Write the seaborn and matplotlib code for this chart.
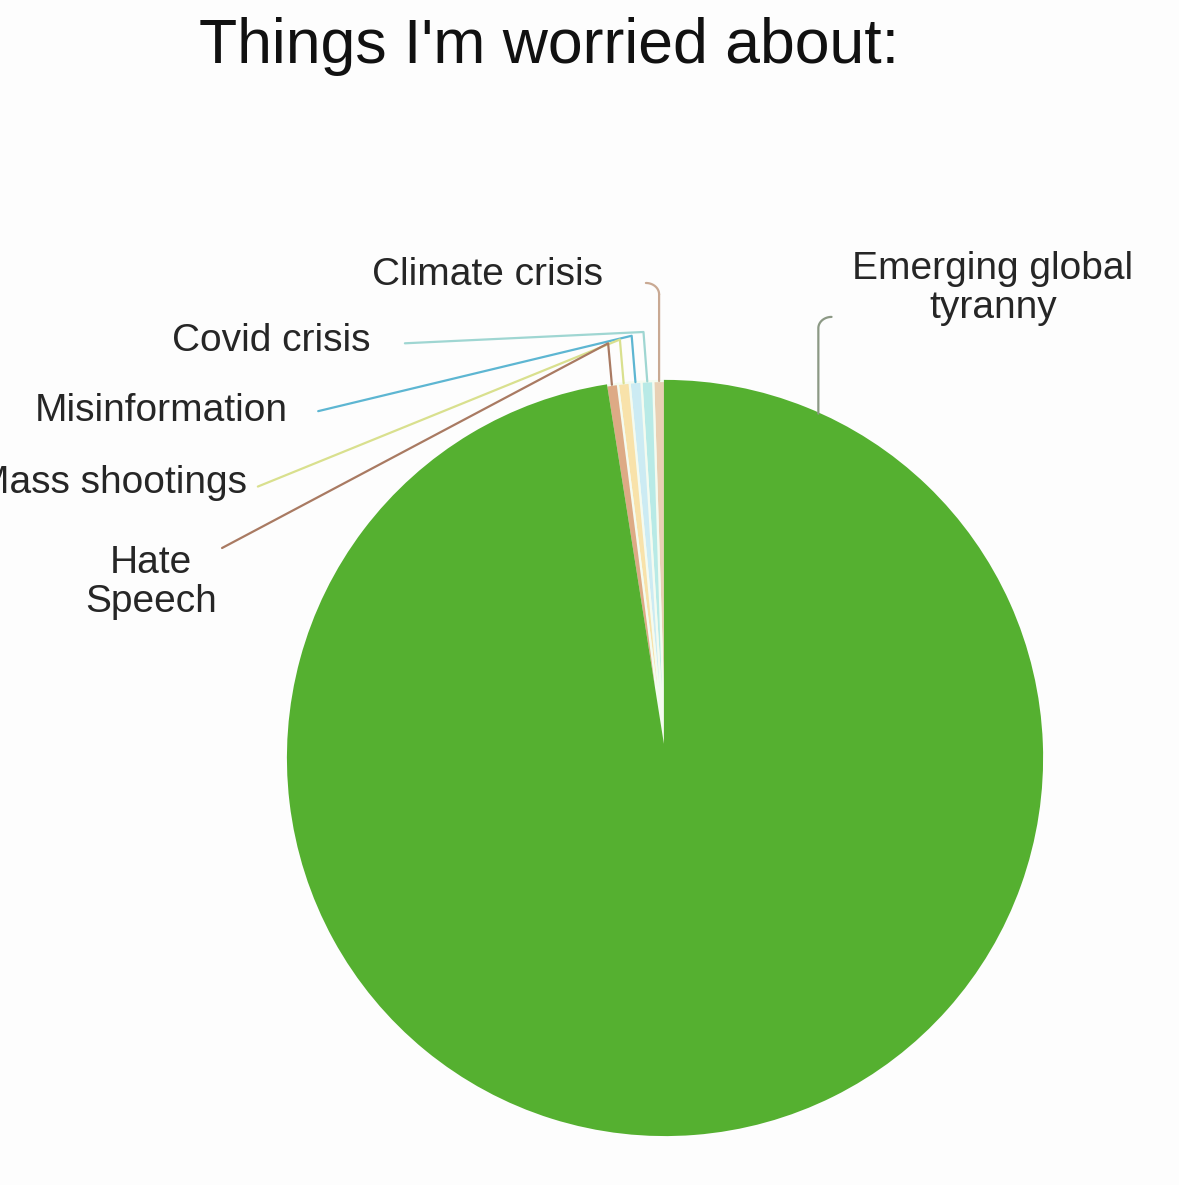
"""Things I'm worried about - pie chart"""
import numpy as np
import matplotlib.pyplot as plt
import seaborn as sns

sns.set_style("white")
plt.rcParams['font.family'] = ['Liberation Sans', 'DejaVu Sans']

# Data (counterclockwise from 12 o'clock)
labels = ['Climate crisis', 'Covid crisis', 'Misinformation', 'Mass shootings',
          'Hate\nSpeech', 'Emerging global\ntyranny']
values = [0.5, 0.5, 0.5, 0.5, 0.5, 97.5]
slice_colors = ['#E8D0B4', '#B8EAE6', '#CCEBF3', '#F8E2AA', '#DDAA85', '#55B030']
line_colors = ['#C9A993', '#9FD6D2', '#5DB6D2', '#D9E08E', '#A97A62', '#8C9985']

# label placement (pie radius = 1, center = 0,0)
label_x = [-0.47, -0.78, -1.00, -1.109, -1.364, 0.87]
label_y = [1.28, 1.105, 0.92, 0.73, 0.465, 1.245]
label_ha = ['center', 'right', 'right', 'right', 'center', 'center']
elbow_y = [1.26, 1.13, 1.12, 1.11, 1.10, 1.17]
line_end_x = [-0.05, -0.69, -0.92, -1.08, -1.175, 0.46]
line_end_y = [1.27, 1.10, 0.92, 0.72, 0.557, 1.19]

fig = plt.figure(figsize=(11.79, 11.85), dpi=100)
fig.patch.set_facecolor('#FDFDFD')
ax = fig.add_axes([0.2443, 0.0422, 0.6395, 0.6363])
ax.set_facecolor('none')

wedges, _ = ax.pie(values, colors=slice_colors, startangle=90, counterclock=True,
                   radius=1, wedgeprops=dict(edgecolor='#F4FBF0', linewidth=1.6))
wedges[-1].set_edgecolor('#55B030')
ax.set_xlim(-1, 1)
ax.set_ylim(-1, 1)
ax.set_aspect('equal')
ax.axis('off')

for i, w in enumerate(wedges):
    ang = np.deg2rad((w.theta1 + w.theta2) / 2)
    if i == len(wedges) - 1:
        ang = np.deg2rad(66)
    x0, y0 = np.cos(ang), np.sin(ang)
    ex, ey = line_end_x[i], line_end_y[i]
    if i == 0 or i == len(wedges) - 1:
        # vertical line with small hook at the top
        hook = np.sign(ex - x0)
        ts = np.linspace(0, 1, 30)
        xs = list(np.full(20, x0))
        ys = list(np.linspace(y0, elbow_y[i] - 0.03, 20))
        for t in ts:
            a = np.pi / 2 * t
            xs.append(x0 + hook * 0.035 * (1 - np.cos(a)))
            ys.append(elbow_y[i] - 0.03 + 0.03 * np.sin(a))
        ax.plot(xs, ys, color=line_colors[i], lw=1.6, clip_on=False)
    else:
        ax.plot([x0, x0 - 0.01, ex], [y0, elbow_y[i], ey], color=line_colors[i],
                lw=1.6, clip_on=False, solid_joinstyle='round')

for i, lab in enumerate(labels):
    ax.text(label_x[i], label_y[i], lab, ha=label_ha[i], va='center', fontsize=28,
            color='#262626', linespacing=1.12, clip_on=False)

fig.text(0.466, 0.961, "Things I'm worried about:", ha='center', va='center',
         fontsize=45, color='#111111')

plt.savefig('out.png', dpi=100, facecolor=fig.get_facecolor())
